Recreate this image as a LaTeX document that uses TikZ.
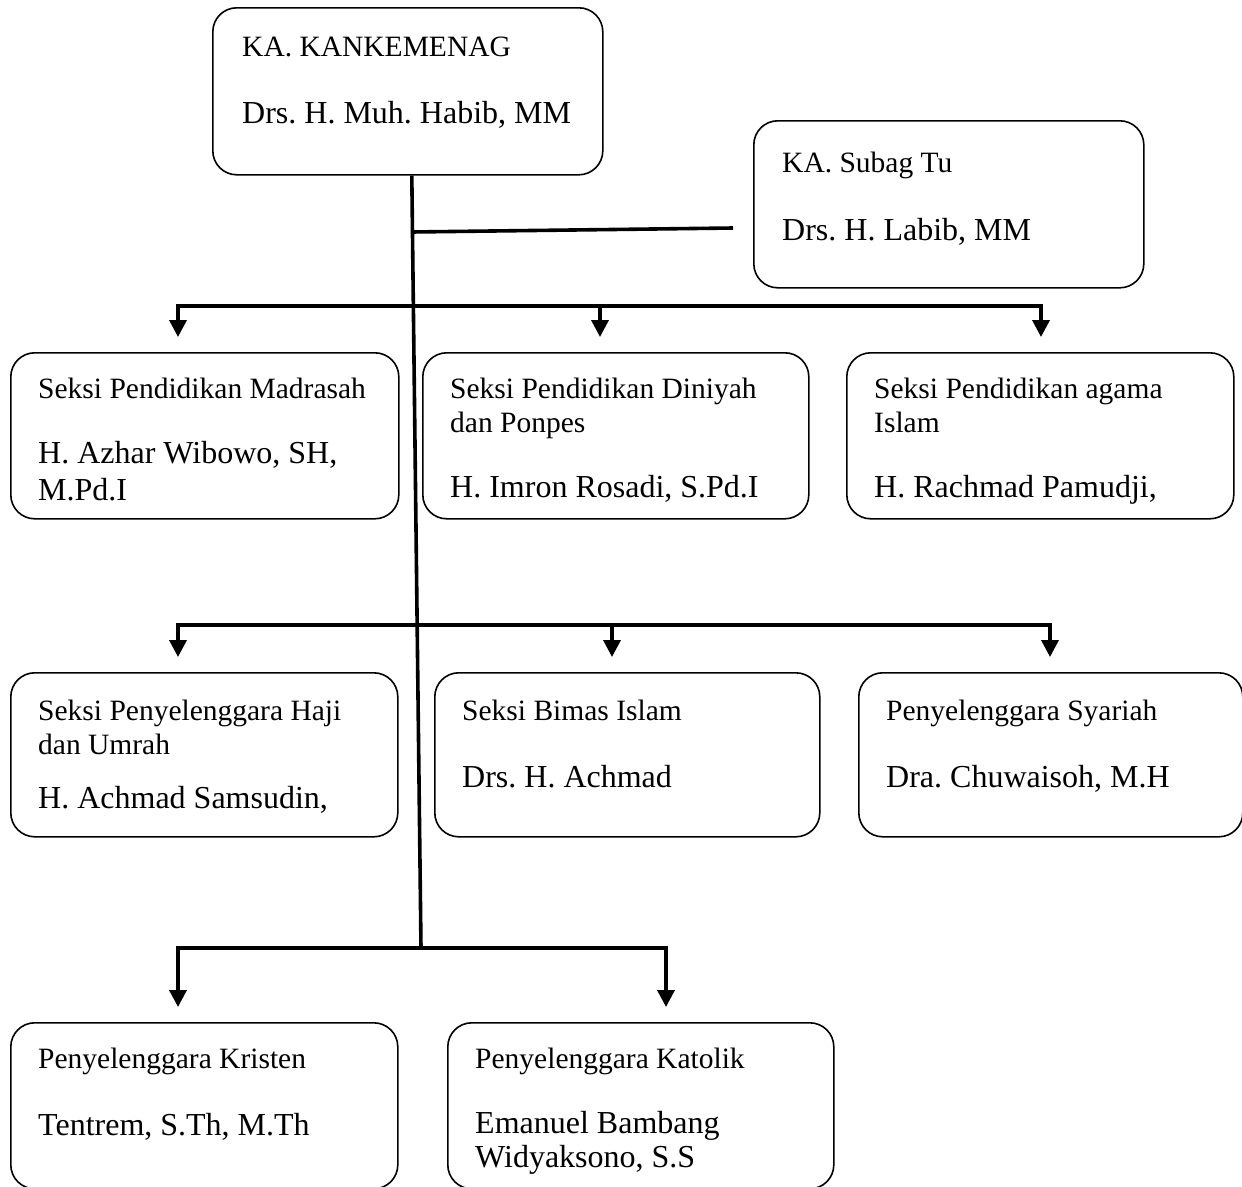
\documentclass[tikz,border=0pt]{standalone}
\usepackage{fontspec}
\setmainfont{Liberation Serif}
\usetikzlibrary{arrows.meta, positioning}
\frenchspacing

\begin{document}
\begin{tikzpicture}
	[%
	x=1pt, y=-1pt,%
	unit/.style  ={rectangle,	draw=black,	line width=1.6pt,	rounded corners=24pt,	inner sep=0pt,	anchor=north west,	minimum width=387pt,	minimum height=166pt},%
	post/.style  ={anchor=base west,	inner sep=0pt,	font=\fontsize{29.5}{33}\selectfont},%
	holder/.style={anchor=base west,	inner sep=0pt,	font=\fontsize{32}{36}\selectfont},%
	link/.style  ={line width=3.6pt},%
	drop/.style  ={line width=3.6pt,	-{Triangle[width=17pt, length=17pt]},	shorten >=15pt},%
	]

	\newcommand\rowa{352}
	\newcommand{\rowb}{672}
	\newcommand{\rowc}{1022}

	\useasboundingbox (0,0) rectangle (1242,1186);
	\clip (0,0) rectangle (1242,1186);

	% nodes
	\node (kepala) at (212,7) [unit, minimum width=390pt, minimum height=167pt] {};
	\node (kepalaA) at ([shift={(30,49)}]kepala.north west) [post] {KA. KANKEMENAG};
	\node (kepalaB) at ([shift={(30,116)}]kepala.north west) [holder] {Drs. H. Muh. Habib, MM};

	\node (subag) at (753,120) [unit, minimum width=390pt, minimum height=167pt] {};
	\node (subagA) at ([shift={(29,52)}]subag.north west) [post] {KA. Subag Tu};
	\node (subagB) at ([shift={(29,120)}]subag.north west) [holder] {Drs. H. Labib, MM};

	\node (madrasah) at (10,\rowa) [unit, minimum width=388pt] {};
	\node (madrasahA) at ([shift={(28,46)}]madrasah.north west) [post] {Seksi Pendidikan Madrasah};
	\node (madrasahB) at ([shift={(28,111)}]madrasah.north west) [holder] {H. Azhar Wibowo, SH,};
	\node (madrasahC) at ([shift={(28,148)}]madrasah.north west) [holder] {M.Pd.I};

	\node (diniyah) at (422,\rowa) [unit, minimum width=386pt] {};
	\node (diniyahA) at ([shift={(28,46)}]diniyah.north west) [post] {Seksi Pendidikan Diniyah};
	\node (diniyahA2) at ([shift={(28,80)}]diniyah.north west) [post] {dan Ponpes};
	\node (diniyahB) at ([shift={(28,145)}]diniyah.north west) [holder] {H. Imron Rosadi, S.Pd.I};

	\node (agama) at (846,\rowa) [unit] {};
	\node (agamaA) at ([shift={(28,46)}]agama.north west) [post] {Seksi Pendidikan agama};
	\node (agamaA2) at ([shift={(28,80)}]agama.north west) [post] {Islam};
	\node (agamaB) at ([shift={(28,145)}]agama.north west) [holder] {H. Rachmad Pamudji,};

	\node (haji) at (10,\rowb) [unit, minimum height=164pt] {};
	\node (hajiA) at ([shift={(28,48)}]haji.north west) [post] {Seksi Penyelenggara Haji};
	\node (hajiA2) at ([shift={(28,82)}]haji.north west) [post] {dan Umrah};
	\node (hajiB) at ([shift={(28,136)}]haji.north west) [holder] {H. Achmad Samsudin,};

	\node (bimas) at (434,\rowb) [unit, minimum width=385pt, minimum height=164pt] {};
	\node (bimasA) at ([shift={(28,48)}]bimas.north west) [post] {Seksi Bimas Islam};
	\node (bimasB) at ([shift={(28,115)}]bimas.north west) [holder] {Drs. H. Achmad};

	\node (syariah) at (858,\rowb) [unit, minimum width=384pt, minimum height=164pt] {};
	\node (syariahA) at ([shift={(28,48)}]syariah.north west) [post] {Penyelenggara Syariah};
	\node (syariahB) at ([shift={(28,115)}]syariah.north west) [holder] {Dra. Chuwaisoh, M.H};

	\node (kristen) at (10,\rowc) [unit] {};
	\node (kristenA) at ([shift={(28,46)}]kristen.north west) [post] {Penyelenggara Kristen};
	\node (kristenB) at ([shift={(28,113)}]kristen.north west) [holder] {Tentrem, S.Th, M.Th};

	\node (katolik) at (447,\rowc) [unit, minimum width=386pt] {};
	\node (katolikA) at ([shift={(28,46)}]katolik.north west) [post] {Penyelenggara Katolik};
	\node (katolikB) at ([shift={(28,111)}]katolik.north west) [holder] {Emanuel Bambang};
	\node (katolikC) at ([shift={(28,145)}]katolik.north west) [holder] {Widyaksono, S.S};

	% junctions on the trunk
	\coordinate (j0) at (411.7,232);
	\coordinate (j1) at (412.7,306);
	\coordinate (j2) at (416.8,625);
	\coordinate (j3) at (421,948);
	\coordinate (tu) at (733,228);

	% interconnections
	\draw [link] ([xshift=4pt]kepala.south) -- (j3);
	\draw [link] (j0) -- (tu);

	\foreach \u/\x in {madrasah/178, diniyah/600, agama/1041}%
		\draw [drop] (j1) -| (\x,0 |- \u.north);
	\foreach \u/\x in {haji/178, bimas/612, syariah/1050}%
		\draw [drop] (j2) -| (\x,0 |- \u.north);
	\foreach \u/\x in {kristen/178, katolik/666}%
		\draw [drop] (j3) -| (\x,0 |- \u.north);

\end{tikzpicture}
\end{document}
